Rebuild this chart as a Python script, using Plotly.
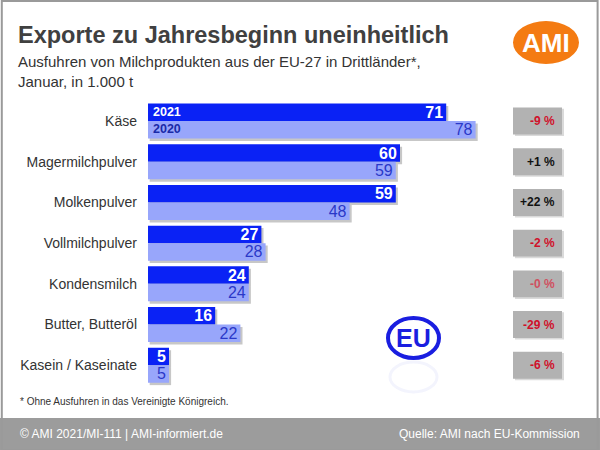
import plotly.graph_objects as go

categories = ["Käse", "Magermilchpulver", "Molkenpulver", "Vollmilchpulver",
              "Kondensmilch", "Butter, Butteröl", "Kasein / Kaseinate"]
values_2021 = [71, 60, 59, 27, 24, 16, 5]
values_2020 = [78, 59, 48, 28, 24, 22, 5]
changes = ["-9 %", "+1 %", "+22 %", "-2 %", "-0 %", "-29 %", "-6 %"]
change_colors = ["#d0102a", "#111111", "#111111", "#d0102a", "#d05060", "#d0102a", "#d0102a"]

FONT = "Liberation Sans, Arial, sans-serif"
C2021 = "#0a22f5"
C2020 = "#98a6fb"
T2020 = "#2a38c8"

fig = go.Figure()
fig.add_trace(go.Bar(
    y=categories, x=values_2021, orientation="h", name="2021",
    marker=dict(color=C2021, line=dict(width=0)),
    text=[str(v) for v in values_2021], textposition="inside",
    insidetextanchor="end", textangle=0, constraintext="none",
    textfont=dict(family=FONT, size=16, color="white", weight="bold"),
    hoverinfo="skip",
))
fig.add_trace(go.Bar(
    y=categories, x=values_2020, orientation="h", name="2020",
    marker=dict(color=C2020, line=dict(width=0)),
    text=[str(v) for v in values_2020], textposition="inside",
    insidetextanchor="end", textangle=0, constraintext="none",
    textfont=dict(family=FONT, size=16, color=T2020),
    hoverinfo="skip",
))

shapes = []
annotations = []

# bar shadows (derived from data)
half = (1 - 0.14) / 2
for i, (a, b) in enumerate(zip(values_2021, values_2020)):
    shapes.append(dict(type="rect", xref="x", yref="y", x0=0.4, x1=a + 0.5,
                       y0=i - half + 0.06, y1=i + 0.06, line=dict(width=0),
                       fillcolor="rgba(0,0,0,0.22)", layer="below"))
    shapes.append(dict(type="rect", xref="x", yref="y", x0=0.4, x1=b + 0.5,
                       y0=i + 0.06, y1=i + half + 0.06, line=dict(width=0),
                       fillcolor="rgba(0,0,0,0.22)", layer="below"))

# outer frame
shapes.append(dict(type="rect", xref="paper", yref="paper", x0=0.003, x1=0.996, y0=0.0, y1=0.998,
                   line=dict(color="#9a9a9a", width=2), fillcolor="rgba(0,0,0,0)", layer="above"))
# footer band
shapes.append(dict(type="rect", xref="paper", yref="paper", x0=0, x1=1, y0=0, y1=1 - 418 / 450,
                   line=dict(width=0), fillcolor="#9c9c9c", layer="below"))

# percentage boxes
for i, (c, col) in enumerate(zip(changes, change_colors)):
    shapes.append(dict(type="rect", xref="paper", yref="y", x0=515 / 600, x1=564 / 600,
                       y0=i - 0.3, y1=i + 0.37, line=dict(width=0), fillcolor="#dadada", layer="below"))
    shapes.append(dict(type="rect", xref="paper", yref="y", x0=513 / 600, x1=562 / 600,
                       y0=i - 0.33, y1=i + 0.33, line=dict(width=0), fillcolor="#b2b2b2", layer="below"))
    annotations.append(dict(xref="paper", yref="y", x=557 / 600, y=i, text=c, showarrow=False,
                            xanchor="right", yanchor="middle",
                            font=dict(family=FONT, size=12, color=col, weight="bold")))

# year labels inside first bars
annotations.append(dict(xref="x", yref="y", x=0, y=categories[0], text="2021", showarrow=False,
                        xanchor="left", yanchor="middle", xshift=3, yshift=9,
                        font=dict(family=FONT, size=12.5, color="white", weight="bold")))
annotations.append(dict(xref="x", yref="y", x=0, y=categories[0], text="2020", showarrow=False,
                        xanchor="left", yanchor="middle", xshift=3, yshift=-8,
                        font=dict(family=FONT, size=12.5, color="#1a2aa8", weight="bold")))

# title & subtitle
annotations.append(dict(xref="paper", yref="paper", x=16 / 600, y=1 - 35 / 450, text="Exporte zu Jahresbeginn uneinheitlich",
                        showarrow=False, xanchor="left", yanchor="middle",
                        font=dict(family=FONT, size=23.5, color="#404040", weight="bold")))
annotations.append(dict(xref="paper", yref="paper", x=16 / 600, y=1 - 71 / 450,
                        text="Ausfuhren von Milchprodukten aus der EU-27 in Drittländer*,<br>Januar, in 1.000 t",
                        showarrow=False, xanchor="left", yanchor="middle", align="left",
                        font=dict(family=FONT, size=15, color="#333333")))

# AMI logo
shapes.append(dict(type="circle", xref="paper", yref="paper", x0=513 / 600, x1=579 / 600,
                   y0=1 - 64 / 450, y1=1 - 21 / 450, line=dict(width=0), fillcolor="#f47b12"))
annotations.append(dict(xref="paper", yref="paper", x=546 / 600, y=1 - 43 / 450, text="AMI", showarrow=False,
                        xanchor="center", yanchor="middle",
                        font=dict(family=FONT, size=26, color="white", weight="bold")))

# EU logo
shapes.append(dict(type="circle", xref="paper", yref="paper", x0=388 / 600, x1=439 / 600,
                   y0=1 - 358 / 450, y1=1 - 318 / 450, line=dict(width=4, color="#1a1ee0"),
                   fillcolor="rgba(0,0,0,0)"))
annotations.append(dict(xref="paper", yref="paper", x=413.5 / 600, y=1 - 338 / 450, text="EU", showarrow=False,
                        xanchor="center", yanchor="middle",
                        font=dict(family=FONT, size=25, color="#1a1ee0", weight="bold")))
shapes.append(dict(type="circle", xref="paper", yref="paper", x0=390 / 600, x1=437 / 600,
                   y0=1 - 392 / 450, y1=1 - 362 / 450, line=dict(width=3, color="rgba(26,30,224,0.05)"),
                   fillcolor="rgba(0,0,0,0)"))

# footnote
annotations.append(dict(xref="paper", yref="paper", x=18 / 600, y=1 - 401 / 450,
                        text="* Ohne Ausfuhren in das Vereinigte Königreich.", showarrow=False,
                        xanchor="left", yanchor="middle", font=dict(family=FONT, size=10, color="#333333")))
# footer texts
annotations.append(dict(xref="paper", yref="paper", x=18 / 600, y=1 - 434 / 450,
                        text="© AMI 2021/MI-111 | AMI-informiert.de", showarrow=False,
                        xanchor="left", yanchor="middle", font=dict(family=FONT, size=12, color="white")))
annotations.append(dict(xref="paper", yref="paper", x=582 / 600, y=1 - 434 / 450,
                        text="Quelle: AMI nach EU-Kommission", showarrow=False,
                        xanchor="right", yanchor="middle", font=dict(family=FONT, size=12, color="white")))

fig.update_layout(
    width=600, height=450,
    margin=dict(l=0, r=0, t=0, b=0),
    paper_bgcolor="white", plot_bgcolor="rgba(0,0,0,0)",
    barmode="group", bargap=0.14, bargroupgap=0,
    showlegend=False,
    shapes=shapes, annotations=annotations,
    xaxis=dict(domain=[148 / 600, 500.8 / 600], range=[0, 84], visible=False, fixedrange=True),
    yaxis=dict(domain=[1 - 385.6 / 450, 1 - 100.7 / 450], autorange="reversed",
               showgrid=False, zeroline=False, showline=False, ticks="",
               ticklabelstandoff=10, fixedrange=True,
               tickfont=dict(family=FONT, size=14, color="#333333")),
)

fig.write_html("out.html", config={"displayModeBar": False},
               post_script="document.body.style.margin='0';document.body.style.overflow='hidden';")
